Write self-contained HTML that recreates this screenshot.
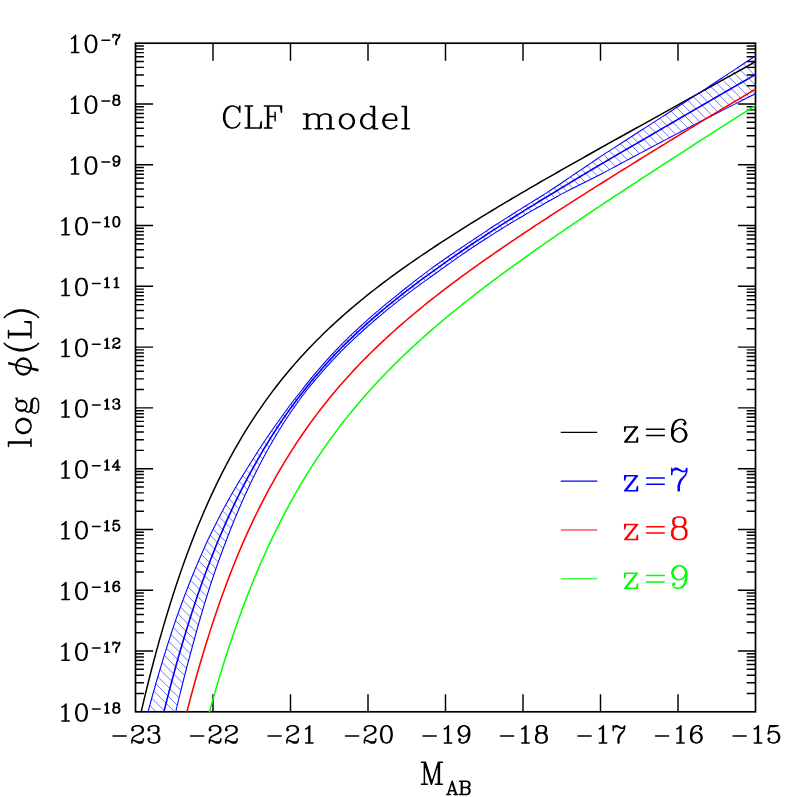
<!DOCTYPE html>
<html><head><meta charset="utf-8"><title>CLF model</title>
<style>
html,body{margin:0;padding:0;background:#fff;}
body{width:797px;height:797px;overflow:hidden;font-family:"Liberation Serif",serif;}
svg{display:block;font-family:"Liberation Serif",serif;}
</style></head><body>
<svg width="797" height="797" viewBox="0 0 797 797">
<rect width="797" height="797" fill="#fff"/>
<path d="M213.00,711.8 v-17.6 M213.00,43.2 v17.6 M290.50,711.8 v-17.6 M290.50,43.2 v17.6 M368.00,711.8 v-17.6 M368.00,43.2 v17.6 M445.50,711.8 v-17.6 M445.50,43.2 v17.6 M523.00,711.8 v-17.6 M523.00,43.2 v17.6 M600.50,711.8 v-17.6 M600.50,43.2 v17.6 M678.00,711.8 v-17.6 M678.00,43.2 v17.6 M135.5,85.68 h8.4 M755.5,85.68 h-8.8 M135.5,74.98 h8.4 M755.5,74.98 h-8.8 M135.5,67.39 h8.4 M755.5,67.39 h-8.8 M135.5,61.50 h8.4 M755.5,61.50 h-8.8 M135.5,56.68 h8.4 M755.5,56.68 h-8.8 M135.5,52.62 h8.4 M755.5,52.62 h-8.8 M135.5,49.09 h8.4 M755.5,49.09 h-8.8 M135.5,45.98 h8.4 M755.5,45.98 h-8.8 M135.5,103.98 h17.6 M755.5,103.98 h-17.6 M135.5,146.47 h8.4 M755.5,146.47 h-8.8 M135.5,135.76 h8.4 M755.5,135.76 h-8.8 M135.5,128.17 h8.4 M755.5,128.17 h-8.8 M135.5,122.28 h8.4 M755.5,122.28 h-8.8 M135.5,117.47 h8.4 M755.5,117.47 h-8.8 M135.5,113.40 h8.4 M755.5,113.40 h-8.8 M135.5,109.87 h8.4 M755.5,109.87 h-8.8 M135.5,106.76 h8.4 M755.5,106.76 h-8.8 M135.5,164.76 h17.6 M755.5,164.76 h-17.6 M135.5,207.25 h8.4 M755.5,207.25 h-8.8 M135.5,196.55 h8.4 M755.5,196.55 h-8.8 M135.5,188.95 h8.4 M755.5,188.95 h-8.8 M135.5,183.06 h8.4 M755.5,183.06 h-8.8 M135.5,178.25 h8.4 M755.5,178.25 h-8.8 M135.5,174.18 h8.4 M755.5,174.18 h-8.8 M135.5,170.65 h8.4 M755.5,170.65 h-8.8 M135.5,167.54 h8.4 M755.5,167.54 h-8.8 M135.5,225.55 h17.6 M755.5,225.55 h-17.6 M135.5,268.03 h8.4 M755.5,268.03 h-8.8 M135.5,257.33 h8.4 M755.5,257.33 h-8.8 M135.5,249.73 h8.4 M755.5,249.73 h-8.8 M135.5,243.84 h8.4 M755.5,243.84 h-8.8 M135.5,239.03 h8.4 M755.5,239.03 h-8.8 M135.5,234.96 h8.4 M755.5,234.96 h-8.8 M135.5,231.44 h8.4 M755.5,231.44 h-8.8 M135.5,228.33 h8.4 M755.5,228.33 h-8.8 M135.5,286.33 h17.6 M755.5,286.33 h-17.6 M135.5,328.81 h8.4 M755.5,328.81 h-8.8 M135.5,318.11 h8.4 M755.5,318.11 h-8.8 M135.5,310.51 h8.4 M755.5,310.51 h-8.8 M135.5,304.62 h8.4 M755.5,304.62 h-8.8 M135.5,299.81 h8.4 M755.5,299.81 h-8.8 M135.5,295.74 h8.4 M755.5,295.74 h-8.8 M135.5,292.22 h8.4 M755.5,292.22 h-8.8 M135.5,289.11 h8.4 M755.5,289.11 h-8.8 M135.5,347.11 h17.6 M755.5,347.11 h-17.6 M135.5,389.59 h8.4 M755.5,389.59 h-8.8 M135.5,378.89 h8.4 M755.5,378.89 h-8.8 M135.5,371.30 h8.4 M755.5,371.30 h-8.8 M135.5,365.41 h8.4 M755.5,365.41 h-8.8 M135.5,360.59 h8.4 M755.5,360.59 h-8.8 M135.5,356.52 h8.4 M755.5,356.52 h-8.8 M135.5,353.00 h8.4 M755.5,353.00 h-8.8 M135.5,349.89 h8.4 M755.5,349.89 h-8.8 M135.5,407.89 h17.6 M755.5,407.89 h-17.6 M135.5,450.38 h8.4 M755.5,450.38 h-8.8 M135.5,439.67 h8.4 M755.5,439.67 h-8.8 M135.5,432.08 h8.4 M755.5,432.08 h-8.8 M135.5,426.19 h8.4 M755.5,426.19 h-8.8 M135.5,421.38 h8.4 M755.5,421.38 h-8.8 M135.5,417.31 h8.4 M755.5,417.31 h-8.8 M135.5,413.78 h8.4 M755.5,413.78 h-8.8 M135.5,410.67 h8.4 M755.5,410.67 h-8.8 M135.5,468.67 h17.6 M755.5,468.67 h-17.6 M135.5,511.16 h8.4 M755.5,511.16 h-8.8 M135.5,500.45 h8.4 M755.5,500.45 h-8.8 M135.5,492.86 h8.4 M755.5,492.86 h-8.8 M135.5,486.97 h8.4 M755.5,486.97 h-8.8 M135.5,482.16 h8.4 M755.5,482.16 h-8.8 M135.5,478.09 h8.4 M755.5,478.09 h-8.8 M135.5,474.56 h8.4 M755.5,474.56 h-8.8 M135.5,471.45 h8.4 M755.5,471.45 h-8.8 M135.5,529.45 h17.6 M755.5,529.45 h-17.6 M135.5,571.94 h8.4 M755.5,571.94 h-8.8 M135.5,561.24 h8.4 M755.5,561.24 h-8.8 M135.5,553.64 h8.4 M755.5,553.64 h-8.8 M135.5,547.75 h8.4 M755.5,547.75 h-8.8 M135.5,542.94 h8.4 M755.5,542.94 h-8.8 M135.5,538.87 h8.4 M755.5,538.87 h-8.8 M135.5,535.34 h8.4 M755.5,535.34 h-8.8 M135.5,532.24 h8.4 M755.5,532.24 h-8.8 M135.5,590.24 h17.6 M755.5,590.24 h-17.6 M135.5,632.72 h8.4 M755.5,632.72 h-8.8 M135.5,622.02 h8.4 M755.5,622.02 h-8.8 M135.5,614.42 h8.4 M755.5,614.42 h-8.8 M135.5,608.53 h8.4 M755.5,608.53 h-8.8 M135.5,603.72 h8.4 M755.5,603.72 h-8.8 M135.5,599.65 h8.4 M755.5,599.65 h-8.8 M135.5,596.13 h8.4 M755.5,596.13 h-8.8 M135.5,593.02 h8.4 M755.5,593.02 h-8.8 M135.5,651.02 h17.6 M755.5,651.02 h-17.6 M135.5,693.50 h8.4 M755.5,693.50 h-8.8 M135.5,682.80 h8.4 M755.5,682.80 h-8.8 M135.5,675.21 h8.4 M755.5,675.21 h-8.8 M135.5,669.32 h8.4 M755.5,669.32 h-8.8 M135.5,664.50 h8.4 M755.5,664.50 h-8.8 M135.5,660.43 h8.4 M755.5,660.43 h-8.8 M135.5,656.91 h8.4 M755.5,656.91 h-8.8 M135.5,653.80 h8.4 M755.5,653.80 h-8.8" stroke="#000" stroke-width="1.45" fill="none"/>
<rect x="135.5" y="43.2" width="620.0" height="668.5999999999999" fill="none" stroke="#000" stroke-width="1.7"/>
<clipPath id="c"><rect x="135.0" y="42.7" width="621.0" height="669.5999999999999"/></clipPath>
<clipPath id="band"><path d="M144.62,725.00 L145.91,720.00 L147.21,715.00 L148.53,710.00 L149.89,705.00 L151.26,700.00 L152.64,695.00 L154.05,690.00 L155.47,685.00 L156.90,680.00 L158.37,675.00 L159.84,670.00 L161.34,665.00 L162.86,660.00 L164.39,655.00 L165.95,650.00 L167.53,645.00 L169.12,640.00 L170.74,635.00 L172.38,630.00 L174.04,625.00 L175.73,620.00 L177.51,615.00 L179.31,610.00 L181.14,605.00 L182.99,600.00 L184.87,595.00 L186.78,590.00 L188.72,585.00 L190.70,580.00 L192.73,575.00 L194.79,570.00 L196.88,565.00 L199.01,560.00 L201.17,555.00 L203.36,550.00 L205.59,545.00 L207.86,540.00 L210.28,535.00 L212.73,530.00 L215.23,525.00 L217.77,520.00 L220.35,515.00 L222.98,510.00 L225.66,505.00 L228.38,500.00 L231.20,495.00 L234.08,490.00 L237.00,485.00 L239.99,480.00 L243.02,475.00 L246.12,470.00 L249.28,465.00 L252.47,460.00 L255.58,455.00 L258.77,450.00 L262.02,445.00 L265.33,440.00 L268.72,435.00 L272.19,430.00 L275.73,425.00 L279.35,420.00 L282.88,415.00 L286.50,410.00 L290.20,405.00 L294.00,400.00 L297.88,395.00 L301.86,390.00 L305.86,384.81 L310.86,378.62 L315.86,372.62 L320.86,366.80 L325.86,361.13 L330.86,355.63 L335.86,350.27 L340.86,345.07 L345.86,340.09 L350.86,335.24 L355.86,330.51 L360.86,325.88 L365.86,321.36 L370.86,316.94 L375.86,312.61 L380.86,308.36 L385.86,304.20 L390.86,300.12 L395.86,296.09 L400.86,292.02 L405.86,288.02 L410.86,284.08 L415.86,280.20 L420.86,276.38 L425.86,272.61 L430.86,268.88 L435.86,265.22 L440.86,261.70 L445.86,258.22 L450.86,254.77 L455.86,251.37 L460.86,248.00 L465.86,244.66 L470.86,241.34 L475.86,237.98 L480.86,234.64 L485.86,231.34 L490.86,228.06 L495.86,224.81 L500.86,221.59 L505.86,218.39 L510.86,215.21 L515.86,212.05 L520.86,208.90 L525.86,205.77 L530.86,202.65 L535.86,199.55 L540.86,196.46 L545.86,193.34 L550.86,190.04 L555.86,186.75 L560.86,183.45 L565.86,180.04 L570.86,176.63 L575.86,173.24 L580.86,169.85 L585.86,166.47 L590.86,163.10 L595.86,159.74 L600.86,156.40 L605.86,153.15 L610.86,149.91 L615.86,146.67 L620.86,143.44 L625.86,140.21 L630.86,136.99 L635.86,133.77 L640.86,130.56 L645.86,127.35 L650.86,124.14 L655.86,120.91 L660.86,117.68 L665.86,114.45 L670.86,111.22 L675.86,108.00 L680.86,104.78 L685.86,101.56 L690.86,98.35 L695.86,95.13 L700.86,91.91 L705.86,88.61 L710.86,85.31 L715.86,82.01 L720.86,78.72 L725.86,75.42 L730.86,72.13 L735.86,68.84 L740.86,65.55 L745.86,62.26 L750.86,58.98 L755.50,55.93 L755.50,93.73 L750.86,96.06 L745.86,98.57 L740.86,101.08 L735.86,103.60 L730.86,106.11 L725.86,108.63 L720.86,111.15 L715.86,113.67 L710.86,116.19 L705.86,118.72 L700.86,121.24 L695.86,123.85 L690.86,126.47 L685.86,129.09 L680.86,131.72 L675.86,134.35 L670.86,136.98 L665.86,139.62 L660.86,142.26 L655.86,144.90 L650.86,147.55 L645.86,150.20 L640.86,152.86 L635.86,155.52 L630.86,158.19 L625.86,160.86 L620.86,163.53 L615.86,166.21 L610.86,168.90 L605.86,171.59 L600.86,174.29 L595.86,176.81 L590.86,179.30 L585.86,181.80 L580.86,184.30 L575.86,186.81 L570.86,189.33 L565.86,191.86 L560.86,194.40 L555.86,197.17 L550.86,199.99 L545.86,202.82 L540.86,205.67 L535.86,208.53 L530.86,211.40 L525.86,214.29 L520.86,217.19 L515.86,220.11 L510.86,223.05 L505.86,226.13 L500.86,229.26 L495.86,232.40 L490.86,235.57 L485.86,238.77 L480.86,242.01 L475.86,245.26 L470.86,248.55 L465.86,251.95 L460.86,255.41 L455.86,258.89 L450.86,262.41 L445.86,265.97 L440.86,269.57 L435.86,273.20 L430.86,276.75 L425.86,280.31 L420.86,283.92 L415.86,287.58 L410.86,291.30 L405.86,295.08 L400.86,298.91 L395.86,302.82 L390.86,306.81 L385.86,310.88 L380.86,315.03 L375.86,319.26 L370.86,323.58 L365.86,328.00 L360.86,332.51 L355.86,337.12 L350.86,341.85 L345.86,346.69 L340.86,351.65 L335.86,356.84 L330.86,362.19 L325.86,367.68 L320.86,373.33 L315.86,379.15 L310.86,385.14 L306.86,390.00 L303.08,395.00 L299.40,400.00 L295.80,405.00 L292.30,410.00 L288.88,415.00 L285.55,420.00 L282.37,425.00 L279.26,430.00 L276.24,435.00 L273.28,440.00 L270.40,445.00 L267.59,450.00 L264.85,455.00 L262.17,460.00 L259.58,465.00 L257.02,470.00 L254.52,475.00 L252.09,480.00 L249.70,485.00 L247.38,490.00 L245.10,495.00 L242.88,500.00 L240.67,505.00 L238.51,510.00 L236.39,515.00 L234.32,520.00 L232.29,525.00 L230.31,530.00 L228.36,535.00 L226.46,540.00 L224.54,545.00 L222.66,550.00 L220.82,555.00 L219.01,560.00 L217.23,565.00 L215.49,570.00 L213.78,575.00 L212.10,580.00 L210.45,585.00 L208.83,590.00 L207.25,595.00 L205.69,600.00 L204.16,605.00 L202.66,610.00 L201.18,615.00 L199.73,620.00 L198.29,625.00 L196.88,630.00 L195.49,635.00 L194.12,640.00 L192.78,645.00 L191.45,650.00 L190.08,655.00 L188.72,660.00 L187.39,665.00 L186.07,670.00 L184.77,675.00 L183.49,680.00 L182.23,685.00 L180.98,690.00 L179.75,695.00 L178.54,700.00 L177.34,705.00 L176.16,710.00 L174.99,715.00 L173.83,720.00 L172.68,725.00Z"/></clipPath>
<g clip-path="url(#c)"><g clip-path="url(#band)"><path d="M100,-1252.50 L800,-552.50 M100,-1243.28 L800,-543.28 M100,-1234.06 L800,-534.06 M100,-1224.85 L800,-524.85 M100,-1215.63 L800,-515.63 M100,-1206.41 L800,-506.41 M100,-1197.19 L800,-497.19 M100,-1187.97 L800,-487.97 M100,-1178.76 L800,-478.76 M100,-1169.54 L800,-469.54 M100,-1160.32 L800,-460.32 M100,-1151.10 L800,-451.10 M100,-1141.88 L800,-441.88 M100,-1132.67 L800,-432.67 M100,-1123.45 L800,-423.45 M100,-1114.23 L800,-414.23 M100,-1105.01 L800,-405.01 M100,-1095.79 L800,-395.79 M100,-1086.58 L800,-386.58 M100,-1077.36 L800,-377.36 M100,-1068.14 L800,-368.14 M100,-1058.92 L800,-358.92 M100,-1049.70 L800,-349.70 M100,-1040.49 L800,-340.49 M100,-1031.27 L800,-331.27 M100,-1022.05 L800,-322.05 M100,-1012.83 L800,-312.83 M100,-1003.61 L800,-303.61 M100,-994.40 L800,-294.40 M100,-985.18 L800,-285.18 M100,-975.96 L800,-275.96 M100,-966.74 L800,-266.74 M100,-957.52 L800,-257.52 M100,-948.31 L800,-248.31 M100,-939.09 L800,-239.09 M100,-929.87 L800,-229.87 M100,-920.65 L800,-220.65 M100,-911.43 L800,-211.43 M100,-902.22 L800,-202.22 M100,-893.00 L800,-193.00 M100,-883.78 L800,-183.78 M100,-874.56 L800,-174.56 M100,-865.34 L800,-165.34 M100,-856.13 L800,-156.13 M100,-846.91 L800,-146.91 M100,-837.69 L800,-137.69 M100,-828.47 L800,-128.47 M100,-819.25 L800,-119.25 M100,-810.04 L800,-110.04 M100,-800.82 L800,-100.82 M100,-791.60 L800,-91.60 M100,-782.38 L800,-82.38 M100,-773.16 L800,-73.16 M100,-763.95 L800,-63.95 M100,-754.73 L800,-54.73 M100,-745.51 L800,-45.51 M100,-736.29 L800,-36.29 M100,-727.07 L800,-27.07 M100,-717.86 L800,-17.86 M100,-708.64 L800,-8.64 M100,-699.42 L800,0.58 M100,-690.20 L800,9.80 M100,-680.98 L800,19.02 M100,-671.77 L800,28.23 M100,-662.55 L800,37.45 M100,-653.33 L800,46.67 M100,-644.11 L800,55.89 M100,-634.89 L800,65.11 M100,-625.68 L800,74.32 M100,-616.46 L800,83.54 M100,-607.24 L800,92.76 M100,-598.02 L800,101.98 M100,-588.80 L800,111.20 M100,-579.59 L800,120.41 M100,-570.37 L800,129.63 M100,-561.15 L800,138.85 M100,-551.93 L800,148.07 M100,-542.71 L800,157.29 M100,-533.50 L800,166.50 M100,-524.28 L800,175.72 M100,-515.06 L800,184.94 M100,-505.84 L800,194.16 M100,-496.62 L800,203.38 M100,-487.41 L800,212.59 M100,-478.19 L800,221.81 M100,-468.97 L800,231.03 M100,-459.75 L800,240.25 M100,-450.53 L800,249.47 M100,-441.32 L800,258.68 M100,-432.10 L800,267.90 M100,-422.88 L800,277.12 M100,-413.66 L800,286.34 M100,-404.44 L800,295.56 M100,-395.23 L800,304.77 M100,-386.01 L800,313.99 M100,-376.79 L800,323.21 M100,-367.57 L800,332.43 M100,-358.35 L800,341.65 M100,-349.14 L800,350.86 M100,-339.92 L800,360.08 M100,-330.70 L800,369.30 M100,-321.48 L800,378.52 M100,-312.26 L800,387.74 M100,-303.05 L800,396.95 M100,-293.83 L800,406.17 M100,-284.61 L800,415.39 M100,-275.39 L800,424.61 M100,-266.17 L800,433.83 M100,-256.96 L800,443.04 M100,-247.74 L800,452.26 M100,-238.52 L800,461.48 M100,-229.30 L800,470.70 M100,-220.08 L800,479.92 M100,-210.87 L800,489.13 M100,-201.65 L800,498.35 M100,-192.43 L800,507.57 M100,-183.21 L800,516.79 M100,-173.99 L800,526.01 M100,-164.78 L800,535.22 M100,-155.56 L800,544.44 M100,-146.34 L800,553.66 M100,-137.12 L800,562.88 M100,-127.90 L800,572.10 M100,-118.69 L800,581.31 M100,-109.47 L800,590.53 M100,-100.25 L800,599.75 M100,-91.03 L800,608.97 M100,-81.81 L800,618.19 M100,-72.60 L800,627.40 M100,-63.38 L800,636.62 M100,-54.16 L800,645.84 M100,-44.94 L800,655.06 M100,-35.72 L800,664.28 M100,-26.51 L800,673.49 M100,-17.29 L800,682.71 M100,-8.07 L800,691.93 M100,1.15 L800,701.15 M100,10.37 L800,710.37 M100,19.58 L800,719.58 M100,28.80 L800,728.80 M100,38.02 L800,738.02 M100,47.24 L800,747.24 M100,56.46 L800,756.46 M100,65.67 L800,765.67 M100,74.89 L800,774.89 M100,84.11 L800,784.11 M100,93.33 L800,793.33 M100,102.55 L800,802.55 M100,111.76 L800,811.76 M100,120.98 L800,820.98 M100,130.20 L800,830.20 M100,139.42 L800,839.42 M100,148.64 L800,848.64 M100,157.85 L800,857.85 M100,167.07 L800,867.07 M100,176.29 L800,876.29 M100,185.51 L800,885.51 M100,194.73 L800,894.73 M100,203.94 L800,903.94 M100,213.16 L800,913.16 M100,222.38 L800,922.38 M100,231.60 L800,931.60 M100,240.82 L800,940.82 M100,250.03 L800,950.03 M100,259.25 L800,959.25 M100,268.47 L800,968.47 M100,277.69 L800,977.69 M100,286.91 L800,986.91 M100,296.12 L800,996.12 M100,305.34 L800,1005.34 M100,314.56 L800,1014.56 M100,323.78 L800,1023.78 M100,333.00 L800,1033.00 M100,342.21 L800,1042.21 M100,351.43 L800,1051.43 M100,360.65 L800,1060.65 M100,369.87 L800,1069.87 M100,379.09 L800,1079.09 M100,388.30 L800,1088.30 M100,397.52 L800,1097.52 M100,406.74 L800,1106.74 M100,415.96 L800,1115.96 M100,425.18 L800,1125.18 M100,434.39 L800,1134.39 M100,443.61 L800,1143.61 M100,452.83 L800,1152.83 M100,462.05 L800,1162.05 M100,471.27 L800,1171.27 M100,480.48 L800,1180.48 M100,489.70 L800,1189.70 M100,498.92 L800,1198.92 M100,508.14 L800,1208.14 M100,517.36 L800,1217.36 M100,526.57 L800,1226.57 M100,535.79 L800,1235.79 M100,545.01 L800,1245.01 M100,554.23 L800,1254.23 M100,563.45 L800,1263.45 M100,572.66 L800,1272.66 M100,581.88 L800,1281.88 M100,591.10 L800,1291.10 M100,600.32 L800,1300.32 M100,609.54 L800,1309.54 M100,618.75 L800,1318.75 M100,627.97 L800,1327.97 M100,637.19 L800,1337.19 M100,646.41 L800,1346.41 M100,655.63 L800,1355.63 M100,664.84 L800,1364.84 M100,674.06 L800,1374.06 M100,683.28 L800,1383.28 M100,692.50 L800,1392.50 M100,701.72 L800,1401.72 M100,710.93 L800,1410.93 M100,720.15 L800,1420.15 M100,729.37 L800,1429.37 M100,738.59 L800,1438.59 M100,747.81 L800,1447.81 M100,757.02 L800,1457.02 M100,766.24 L800,1466.24 M100,775.46 L800,1475.46 M100,784.68 L800,1484.68 M100,793.90 L800,1493.90 M100,803.11 L800,1503.11 M100,812.33 L800,1512.33 M100,821.55 L800,1521.55 M100,830.77 L800,1530.77 M100,839.99 L800,1539.99 M100,849.20 L800,1549.20 M100,858.42 L800,1558.42 M100,867.64 L800,1567.64 M100,876.86 L800,1576.86 M100,886.08 L800,1586.08 M100,895.29 L800,1595.29 M100,904.51 L800,1604.51 M100,913.73 L800,1613.73 M100,922.95 L800,1622.95 M100,932.17 L800,1632.17 M100,941.38 L800,1641.38 M100,950.60 L800,1650.60 M100,959.82 L800,1659.82 M100,969.04 L800,1669.04 M100,978.26 L800,1678.26 M100,987.47 L800,1687.47 M100,996.69 L800,1696.69" stroke="#0000ff" stroke-width="0.55" fill="none"/></g>
<path d="M131.62,754.91 L134.76,740.26 L137.90,726.08 L141.03,712.36 L144.17,699.09 L147.30,686.24 L150.44,673.80 L153.57,661.75 L156.71,650.09 L159.84,638.79 L162.98,627.84 L166.11,617.23 L169.25,606.95 L172.38,596.99 L175.52,587.33 L178.65,577.96 L181.79,568.87 L184.92,560.05 L188.06,551.50 L191.19,543.19 L194.33,535.13 L197.46,527.30 L200.60,519.70 L203.73,512.31 L206.87,505.13 L210.00,498.16 L213.14,491.37 L216.27,484.78 L219.41,478.36 L222.54,472.11 L225.68,466.03 L228.81,460.12 L231.95,454.35 L235.08,448.74 L238.22,443.27 L241.35,437.93 L244.49,432.73 L247.62,427.66 L250.76,422.71 L253.89,417.88 L257.03,413.17 L260.16,408.56 L263.30,404.06 L266.43,399.67 L269.57,395.37 L272.70,391.16 L275.84,387.05 L278.97,383.03 L282.11,379.09 L285.24,375.23 L288.38,371.45 L291.51,367.75 L294.65,364.12 L297.78,360.56 L300.92,357.07 L304.05,353.64 L307.19,350.28 L310.32,346.98 L313.46,343.73 L316.59,340.54 L319.73,337.41 L322.86,334.32 L326.00,331.29 L329.13,328.31 L332.27,325.37 L335.40,322.48 L338.54,319.63 L341.67,316.82 L344.81,314.05 L347.94,311.32 L351.08,308.63 L354.21,305.97 L357.35,303.35 L360.48,300.76 L363.62,298.21 L366.75,295.68 L369.89,293.18 L373.02,290.72 L376.16,288.28 L379.29,285.86 L382.43,283.47 L385.56,281.11 L388.70,278.77 L391.83,276.45 L394.97,274.16 L398.10,271.89 L401.24,269.63 L404.37,267.40 L407.51,265.18 L410.64,262.99 L413.78,260.81 L416.91,258.65 L420.05,256.50 L423.18,254.37 L426.32,252.26 L429.45,250.15 L432.59,248.07 L435.72,246.00 L438.86,243.94 L441.99,241.89 L445.13,239.85 L448.27,237.83 L451.40,235.82 L454.54,233.81 L457.67,231.82 L460.81,229.84 L463.94,227.87 L467.08,225.91 L470.21,223.95 L473.35,222.01 L476.48,220.07 L479.62,218.14 L482.75,216.22 L485.89,214.31 L489.02,212.40 L492.16,210.50 L495.29,208.61 L498.43,206.72 L501.56,204.84 L504.70,202.97 L507.83,201.10 L510.97,199.24 L514.10,197.38 L517.24,195.53 L520.37,193.68 L523.51,191.85 L526.64,190.03 L529.78,188.20 L532.91,186.39 L536.05,184.57 L539.18,182.77 L542.32,180.96 L545.45,179.16 L548.59,177.36 L551.72,175.57 L554.86,173.78 L557.99,171.99 L561.13,170.20 L564.26,168.42 L567.40,166.64 L570.53,164.86 L573.67,163.09 L576.80,161.32 L579.94,159.55 L583.07,157.78 L586.21,156.02 L589.34,154.26 L592.48,152.49 L595.61,150.74 L598.75,148.98 L601.88,147.22 L605.02,145.47 L608.15,143.72 L611.29,141.97 L614.42,140.22 L617.56,138.48 L620.69,136.73 L623.83,134.99 L626.96,133.25 L630.10,131.51 L633.23,129.77 L636.37,128.03 L639.50,126.29 L642.64,124.55 L645.77,122.82 L648.91,121.09 L652.04,119.34 L655.18,117.59 L658.31,115.85 L661.45,114.10 L664.58,112.35 L667.72,110.61 L670.85,108.87 L673.99,107.12 L677.12,105.38 L680.26,103.64 L683.39,101.90 L686.53,100.16 L689.66,98.42 L692.80,96.68 L695.93,94.94 L699.07,93.20 L702.20,91.44 L705.34,89.67 L708.47,87.91 L711.61,86.14 L714.74,84.37 L717.88,82.61 L721.01,80.84 L724.15,79.07 L727.28,77.31 L730.42,75.54 L733.55,73.78 L744.20,68.00 L755.50,61.60" stroke="#000" stroke-width="1.5" fill="none" stroke-linejoin="round"/>
<path d="M144.62,725.00 L145.91,720.00 L147.21,715.00 L148.53,710.00 L149.89,705.00 L151.26,700.00 L152.64,695.00 L154.05,690.00 L155.47,685.00 L156.90,680.00 L158.37,675.00 L159.84,670.00 L161.34,665.00 L162.86,660.00 L164.39,655.00 L165.95,650.00 L167.53,645.00 L169.12,640.00 L170.74,635.00 L172.38,630.00 L174.04,625.00 L175.73,620.00 L177.51,615.00 L179.31,610.00 L181.14,605.00 L182.99,600.00 L184.87,595.00 L186.78,590.00 L188.72,585.00 L190.70,580.00 L192.73,575.00 L194.79,570.00 L196.88,565.00 L199.01,560.00 L201.17,555.00 L203.36,550.00 L205.59,545.00 L207.86,540.00 L210.28,535.00 L212.73,530.00 L215.23,525.00 L217.77,520.00 L220.35,515.00 L222.98,510.00 L225.66,505.00 L228.38,500.00 L231.20,495.00 L234.08,490.00 L237.00,485.00 L239.99,480.00 L243.02,475.00 L246.12,470.00 L249.28,465.00 L252.47,460.00 L255.58,455.00 L258.77,450.00 L262.02,445.00 L265.33,440.00 L268.72,435.00 L272.19,430.00 L275.73,425.00 L279.35,420.00 L282.88,415.00 L286.50,410.00 L290.20,405.00 L294.00,400.00 L297.88,395.00 L301.86,390.00 L305.86,384.81 L310.86,378.62 L315.86,372.62 L320.86,366.80 L325.86,361.13 L330.86,355.63 L335.86,350.27 L340.86,345.07 L345.86,340.09 L350.86,335.24 L355.86,330.51 L360.86,325.88 L365.86,321.36 L370.86,316.94 L375.86,312.61 L380.86,308.36 L385.86,304.20 L390.86,300.12 L395.86,296.09 L400.86,292.02 L405.86,288.02 L410.86,284.08 L415.86,280.20 L420.86,276.38 L425.86,272.61 L430.86,268.88 L435.86,265.22 L440.86,261.70 L445.86,258.22 L450.86,254.77 L455.86,251.37 L460.86,248.00 L465.86,244.66 L470.86,241.34 L475.86,237.98 L480.86,234.64 L485.86,231.34 L490.86,228.06 L495.86,224.81 L500.86,221.59 L505.86,218.39 L510.86,215.21 L515.86,212.05 L520.86,208.90 L525.86,205.77 L530.86,202.65 L535.86,199.55 L540.86,196.46 L545.86,193.34 L550.86,190.04 L555.86,186.75 L560.86,183.45 L565.86,180.04 L570.86,176.63 L575.86,173.24 L580.86,169.85 L585.86,166.47 L590.86,163.10 L595.86,159.74 L600.86,156.40 L605.86,153.15 L610.86,149.91 L615.86,146.67 L620.86,143.44 L625.86,140.21 L630.86,136.99 L635.86,133.77 L640.86,130.56 L645.86,127.35 L650.86,124.14 L655.86,120.91 L660.86,117.68 L665.86,114.45 L670.86,111.22 L675.86,108.00 L680.86,104.78 L685.86,101.56 L690.86,98.35 L695.86,95.13 L700.86,91.91 L705.86,88.61 L710.86,85.31 L715.86,82.01 L720.86,78.72 L725.86,75.42 L730.86,72.13 L735.86,68.84 L740.86,65.55 L745.86,62.26 L750.86,58.98 L755.50,55.93" stroke="#0000ff" stroke-width="1.05" fill="none" stroke-linejoin="round"/>
<path d="M172.68,725.00 L173.83,720.00 L174.99,715.00 L176.16,710.00 L177.34,705.00 L178.54,700.00 L179.75,695.00 L180.98,690.00 L182.23,685.00 L183.49,680.00 L184.77,675.00 L186.07,670.00 L187.39,665.00 L188.72,660.00 L190.08,655.00 L191.45,650.00 L192.78,645.00 L194.12,640.00 L195.49,635.00 L196.88,630.00 L198.29,625.00 L199.73,620.00 L201.18,615.00 L202.66,610.00 L204.16,605.00 L205.69,600.00 L207.25,595.00 L208.83,590.00 L210.45,585.00 L212.10,580.00 L213.78,575.00 L215.49,570.00 L217.23,565.00 L219.01,560.00 L220.82,555.00 L222.66,550.00 L224.54,545.00 L226.46,540.00 L228.36,535.00 L230.31,530.00 L232.29,525.00 L234.32,520.00 L236.39,515.00 L238.51,510.00 L240.67,505.00 L242.88,500.00 L245.10,495.00 L247.38,490.00 L249.70,485.00 L252.09,480.00 L254.52,475.00 L257.02,470.00 L259.58,465.00 L262.17,460.00 L264.85,455.00 L267.59,450.00 L270.40,445.00 L273.28,440.00 L276.24,435.00 L279.26,430.00 L282.37,425.00 L285.55,420.00 L288.88,415.00 L292.30,410.00 L295.80,405.00 L299.40,400.00 L303.08,395.00 L306.86,390.00 L310.86,385.14 L315.86,379.15 L320.86,373.33 L325.86,367.68 L330.86,362.19 L335.86,356.84 L340.86,351.65 L345.86,346.69 L350.86,341.85 L355.86,337.12 L360.86,332.51 L365.86,328.00 L370.86,323.58 L375.86,319.26 L380.86,315.03 L385.86,310.88 L390.86,306.81 L395.86,302.82 L400.86,298.91 L405.86,295.08 L410.86,291.30 L415.86,287.58 L420.86,283.92 L425.86,280.31 L430.86,276.75 L435.86,273.20 L440.86,269.57 L445.86,265.97 L450.86,262.41 L455.86,258.89 L460.86,255.41 L465.86,251.95 L470.86,248.55 L475.86,245.26 L480.86,242.01 L485.86,238.77 L490.86,235.57 L495.86,232.40 L500.86,229.26 L505.86,226.13 L510.86,223.05 L515.86,220.11 L520.86,217.19 L525.86,214.29 L530.86,211.40 L535.86,208.53 L540.86,205.67 L545.86,202.82 L550.86,199.99 L555.86,197.17 L560.86,194.40 L565.86,191.86 L570.86,189.33 L575.86,186.81 L580.86,184.30 L585.86,181.80 L590.86,179.30 L595.86,176.81 L600.86,174.29 L605.86,171.59 L610.86,168.90 L615.86,166.21 L620.86,163.53 L625.86,160.86 L630.86,158.19 L635.86,155.52 L640.86,152.86 L645.86,150.20 L650.86,147.55 L655.86,144.90 L660.86,142.26 L665.86,139.62 L670.86,136.98 L675.86,134.35 L680.86,131.72 L685.86,129.09 L690.86,126.47 L695.86,123.85 L700.86,121.24 L705.86,118.72 L710.86,116.19 L715.86,113.67 L720.86,111.15 L725.86,108.63 L730.86,106.11 L735.86,103.60 L740.86,101.08 L745.86,98.57 L750.86,96.06 L755.50,93.73" stroke="#0000ff" stroke-width="1.05" fill="none" stroke-linejoin="round"/>
<path d="M131.62,866.74 L134.76,849.37 L137.90,832.55 L141.03,816.27 L144.17,800.51 L147.30,785.24 L150.44,770.45 L153.57,756.12 L156.71,742.23 L159.84,728.78 L162.98,715.74 L166.11,703.10 L169.25,690.85 L172.38,678.97 L175.52,667.44 L178.65,656.26 L181.79,645.42 L184.92,634.90 L188.06,624.69 L191.19,614.78 L194.33,605.15 L197.46,595.81 L200.60,586.74 L203.73,577.98 L206.87,569.46 L210.00,561.18 L213.14,553.14 L216.27,545.32 L219.41,537.72 L222.54,530.33 L225.68,523.14 L228.81,516.14 L231.95,509.33 L235.08,502.70 L238.22,496.24 L241.35,489.95 L244.49,483.82 L247.62,477.85 L250.76,472.03 L253.89,466.36 L257.03,460.77 L260.16,455.30 L263.30,449.95 L266.43,444.73 L269.57,439.63 L272.70,434.64 L275.84,429.77 L278.97,425.01 L282.11,420.35 L285.24,415.80 L288.38,411.34 L291.51,406.97 L294.65,402.70 L297.78,398.51 L300.92,394.41 L304.05,390.39 L307.19,386.45 L310.32,382.58 L313.46,378.78 L316.59,375.06 L319.73,371.40 L322.86,367.81 L326.00,364.28 L329.13,360.81 L332.27,357.41 L335.40,354.05 L338.54,350.76 L341.67,347.55 L344.81,344.43 L347.94,341.36 L351.08,338.33 L354.21,335.35 L357.35,332.42 L360.48,329.53 L363.62,326.67 L366.75,323.86 L369.89,321.09 L373.02,318.35 L376.16,315.65 L379.29,312.98 L382.43,310.35 L385.56,307.75 L388.70,305.17 L391.83,302.63 L394.97,300.12 L398.10,297.61 L401.24,295.13 L404.37,292.67 L407.51,290.24 L410.64,287.83 L413.78,285.44 L416.91,283.08 L420.05,280.73 L423.18,278.41 L426.32,276.11 L429.45,273.83 L432.59,271.56 L435.72,269.31 L438.86,267.06 L441.99,264.83 L445.13,262.61 L448.27,260.40 L451.40,258.22 L454.54,256.04 L457.67,253.88 L460.81,251.74 L463.94,249.61 L467.08,247.48 L470.21,245.38 L473.35,243.28 L476.48,241.19 L479.62,239.12 L482.75,237.05 L485.89,235.00 L489.02,232.95 L492.16,230.92 L495.29,228.91 L498.43,226.90 L501.56,224.90 L504.70,222.91 L507.83,220.93 L510.97,218.95 L514.10,216.98 L517.24,215.02 L520.37,213.06 L523.51,211.11 L526.64,209.17 L529.78,207.24 L532.91,205.31 L536.05,203.38 L539.18,201.46 L542.32,199.55 L545.45,197.64 L548.59,195.73 L551.72,193.83 L554.86,191.94 L557.99,190.05 L561.13,188.15 L564.26,186.25 L567.40,184.34 L570.53,182.44 L573.67,180.55 L576.80,178.66 L579.94,176.77 L583.07,174.88 L586.21,173.00 L589.34,171.12 L592.48,169.25 L595.61,167.37 L598.75,165.50 L601.88,163.65 L605.02,161.82 L608.15,159.98 L611.29,158.15 L614.42,156.32 L617.56,154.49 L620.69,152.67 L623.83,150.85 L626.96,149.03 L630.10,147.21 L633.23,145.39 L636.37,143.57 L639.50,141.76 L642.64,139.95 L645.77,138.14 L648.91,136.33 L652.04,134.50 L655.18,132.67 L658.31,130.84 L661.45,129.01 L664.58,127.18 L667.72,125.35 L670.85,123.52 L673.99,121.69 L677.12,119.87 L680.26,118.04 L683.39,116.22 L686.53,114.40 L689.66,112.57 L692.80,110.75 L695.93,108.93 L699.07,107.12 L702.20,105.30 L705.34,103.48 L708.47,101.67 L711.61,99.86 L714.74,98.04 L717.88,96.23 L721.01,94.42 L724.15,92.61 L727.28,90.80 L730.42,88.99 L733.55,87.18 L736.69,85.37 L739.82,83.56 L742.96,81.75 L746.09,79.95 L749.23,78.14 L752.36,76.33 L755.50,74.53" stroke="#0000ff" stroke-width="1.6" fill="none" stroke-linejoin="round"/>
<path d="M131.62,1000.29 L134.76,979.12 L137.90,958.65 L141.03,938.84 L144.17,919.68 L147.30,901.13 L150.44,883.19 L153.57,865.82 L156.71,849.00 L159.84,832.73 L162.98,816.97 L166.11,801.70 L169.25,786.92 L172.38,772.60 L175.52,758.73 L178.65,745.28 L181.79,732.25 L184.92,719.62 L188.06,707.38 L191.19,695.51 L194.33,684.00 L197.46,672.83 L200.60,661.99 L203.73,651.48 L206.87,641.28 L210.00,631.37 L213.14,621.76 L216.27,612.42 L219.41,603.34 L222.54,594.53 L225.68,585.96 L228.81,577.64 L231.95,569.54 L235.08,561.67 L238.22,554.02 L241.35,546.59 L244.49,539.39 L247.62,532.39 L250.76,525.57 L253.89,518.93 L257.03,512.47 L260.16,506.17 L263.30,500.03 L266.43,494.04 L269.57,488.21 L272.70,482.51 L275.84,476.95 L278.97,471.47 L282.11,466.12 L285.24,460.90 L288.38,455.80 L291.51,450.81 L294.65,445.94 L297.78,441.17 L300.92,436.50 L304.05,431.94 L307.19,427.47 L310.32,423.09 L313.46,418.81 L316.59,414.61 L319.73,410.49 L322.86,406.45 L326.00,402.49 L329.13,398.60 L332.27,394.79 L335.40,391.04 L338.54,387.37 L341.67,383.75 L344.81,380.20 L347.94,376.71 L351.08,373.27 L354.21,369.89 L357.35,366.57 L360.48,363.30 L363.62,360.07 L366.75,356.90 L369.89,353.77 L373.02,350.68 L376.16,347.64 L379.29,344.64 L382.43,341.68 L385.56,338.76 L388.70,335.87 L391.83,333.02 L394.97,330.21 L398.10,327.43 L401.24,324.68 L404.37,321.96 L407.51,319.27 L410.64,316.61 L413.78,313.98 L416.91,311.38 L420.05,308.80 L423.18,306.24 L426.32,303.71 L429.45,301.21 L432.59,298.72 L435.72,296.26 L438.86,293.82 L441.99,291.39 L445.13,288.99 L448.27,286.61 L451.40,284.24 L454.54,281.89 L457.67,279.56 L460.81,277.24 L463.94,274.94 L467.08,272.65 L470.21,270.38 L473.35,268.12 L476.48,265.88 L479.62,263.64 L482.75,261.42 L485.89,259.22 L489.02,257.02 L492.16,254.84 L495.29,252.66 L498.43,250.50 L501.56,248.34 L504.70,246.20 L507.83,244.06 L510.97,241.93 L514.10,239.81 L517.24,237.70 L520.37,235.60 L523.51,233.50 L526.64,231.42 L529.78,229.34 L532.91,227.26 L536.05,225.19 L539.18,223.13 L542.32,221.08 L545.45,219.03 L548.59,216.99 L551.72,214.95 L554.86,212.92 L557.99,210.89 L561.13,208.87 L564.26,206.86 L567.40,204.84 L570.53,202.84 L573.67,200.83 L576.80,198.83 L579.94,196.84 L583.07,194.85 L586.21,192.86 L589.34,190.87 L592.48,188.89 L595.61,186.92 L598.75,184.94 L601.88,182.97 L605.02,181.00 L608.15,179.04 L611.29,177.08 L614.42,175.12 L617.56,173.16 L620.69,171.21 L623.83,169.25 L626.96,167.30 L630.10,165.36 L633.23,163.41 L636.37,161.47 L639.50,159.53 L642.64,157.59 L645.77,155.65 L648.91,153.71 L652.04,151.78 L655.18,149.85 L658.31,147.91 L661.45,145.99 L664.58,144.06 L667.72,142.13 L670.85,140.21 L673.99,138.28 L677.12,136.36 L680.26,134.44 L683.39,132.52 L686.53,130.60 L689.66,128.68 L692.80,126.77 L695.93,124.85 L699.07,122.94 L702.20,121.04 L705.34,119.16 L708.47,117.28 L711.61,115.40 L714.74,113.52 L717.88,111.65 L721.01,109.77 L724.15,107.89 L727.28,106.02 L730.42,104.14 L733.55,102.27 L736.69,100.39 L739.82,98.52 L742.96,96.65 L746.09,94.78 L749.23,92.91 L752.36,91.04 L755.50,89.16" stroke="#ff0000" stroke-width="1.55" fill="none" stroke-linejoin="round"/>
<path d="M131.62,1135.13 L134.76,1110.82 L137.90,1087.29 L141.03,1064.52 L144.17,1042.47 L147.30,1021.14 L150.44,1000.47 L153.57,980.47 L156.71,961.10 L159.84,942.33 L162.98,924.16 L166.11,906.55 L169.25,889.50 L172.38,872.97 L175.52,856.95 L178.65,841.42 L181.79,826.37 L184.92,811.78 L188.06,797.63 L191.19,783.90 L194.33,770.59 L197.46,757.68 L200.60,745.15 L203.73,732.99 L206.87,721.19 L210.00,709.73 L213.14,698.60 L216.27,687.80 L219.41,677.30 L222.54,667.11 L225.68,657.20 L228.81,647.57 L231.95,638.21 L235.08,629.10 L238.22,620.25 L241.35,611.64 L244.49,603.26 L247.62,595.11 L250.76,587.17 L253.89,579.44 L257.03,571.91 L260.16,564.58 L263.30,557.44 L266.43,550.47 L269.57,543.68 L272.70,537.07 L275.84,530.61 L278.97,524.31 L282.11,518.16 L285.24,512.16 L288.38,506.30 L291.51,500.57 L294.65,494.98 L297.78,489.52 L300.92,484.17 L304.05,478.95 L307.19,473.83 L310.32,468.83 L313.46,463.94 L316.59,459.14 L319.73,454.45 L322.86,449.85 L326.00,445.34 L329.13,440.92 L332.27,436.59 L335.40,432.34 L338.54,428.17 L341.67,424.08 L344.81,420.06 L347.94,416.11 L351.08,412.23 L354.21,408.42 L357.35,404.67 L360.48,400.99 L363.62,397.36 L366.75,393.79 L369.89,390.28 L373.02,386.82 L376.16,383.42 L379.29,380.06 L382.43,376.75 L385.56,373.49 L388.70,370.28 L391.83,367.10 L394.97,363.97 L398.10,360.88 L401.24,357.83 L404.37,354.82 L407.51,351.84 L410.64,348.90 L413.78,345.99 L416.91,343.12 L420.05,340.27 L423.18,337.46 L426.32,334.68 L429.45,331.92 L432.59,329.19 L435.72,326.49 L438.86,323.81 L441.99,321.16 L445.13,318.53 L448.27,315.93 L451.40,313.34 L454.54,310.78 L457.67,308.24 L460.81,305.72 L463.94,303.21 L467.08,300.73 L470.21,298.26 L473.35,295.81 L476.48,293.38 L479.62,290.96 L482.75,288.56 L485.89,286.18 L489.02,283.80 L492.16,281.45 L495.29,279.10 L498.43,276.77 L501.56,274.45 L504.70,272.14 L507.83,269.85 L510.97,267.56 L514.10,265.29 L517.24,263.02 L520.37,260.77 L523.51,258.53 L526.64,256.29 L529.78,254.07 L532.91,251.85 L536.05,249.64 L539.18,247.44 L542.32,245.25 L545.45,243.07 L548.59,240.89 L551.72,238.72 L554.86,236.55 L557.99,234.40 L561.13,232.25 L564.26,230.10 L567.40,227.96 L570.53,225.83 L573.67,223.70 L576.80,221.58 L579.94,219.46 L583.07,217.35 L586.21,215.24 L589.34,213.14 L592.48,211.04 L595.61,208.95 L598.75,206.86 L601.88,204.77 L605.02,202.69 L608.15,200.61 L611.29,198.54 L614.42,196.46 L617.56,194.40 L620.69,192.33 L623.83,190.27 L626.96,188.21 L630.10,186.15 L633.23,184.10 L636.37,182.05 L639.50,180.00 L642.64,177.96 L645.77,175.91 L648.91,173.87 L652.04,171.83 L655.18,169.80 L658.31,167.76 L661.45,165.73 L664.58,163.70 L667.72,161.67 L670.85,159.64 L673.99,157.62 L677.12,155.60 L680.26,153.57 L683.39,151.55 L686.53,149.54 L689.66,147.52 L692.80,145.50 L695.93,143.49 L699.07,141.48 L702.20,139.46 L705.34,137.45 L708.47,135.45 L711.61,133.44 L714.74,131.43 L717.88,129.42 L721.01,127.42 L724.15,125.41 L727.28,123.41 L730.42,121.41 L733.55,119.41 L736.69,117.41 L739.82,115.41 L742.96,113.41 L746.09,111.41 L749.23,109.41 L752.36,107.42 L755.50,105.42" stroke="#00ff00" stroke-width="1.5" fill="none" stroke-linejoin="round"/>
</g>
<g fill="none" stroke-linecap="round" stroke-linejoin="round">
<path d="M560.8,432.40 H597.2" stroke="#000" stroke-width="1.1" stroke-linecap="butt"/>
<path d="M636.5 427.0 624.7 442.0 637.5 442.0 637.5 437.7 636.5 442.0M625.8 442.0 637.5 427.0 624.7 427.0 624.7 431.3 625.8 427.0M646.5 429.2 664.3 429.2M646.5 435.6 664.3 435.6M679.3 419.5 682.5 419.5 684.6 420.6 685.7 422.7 685.7 423.8 684.6 424.9 683.6 423.8 684.6 422.7M679.3 419.5 676.1 420.6 673.9 422.7 672.9 424.9 671.8 429.2 671.8 435.6 672.9 438.8 675.0 440.9 678.2 442.0 676.1 440.9 673.9 438.8 672.9 435.6 672.9 429.2 673.9 424.9 675.0 422.7 677.1 420.6 679.3 419.5M680.4 428.1 683.6 429.2 685.7 431.3 686.8 434.5 686.8 435.6 685.7 438.8 683.6 440.9 680.4 442.0 682.5 440.9 684.6 438.8 685.7 435.6 685.7 434.5 684.6 431.3 682.5 429.2 680.4 428.1 679.3 428.1 676.1 429.2 673.9 431.3 672.9 434.5M678.2 442.0 680.4 442.0" stroke="#000" stroke-width="1.5"/>
<path d="M560.8,481.17 H597.2" stroke="#0000ff" stroke-width="1.1" stroke-linecap="butt"/>
<path d="M636.5 475.8 624.7 490.8 637.5 490.8 637.5 486.5 636.5 490.8M625.8 490.8 637.5 475.8 624.7 475.8 624.7 480.1 625.8 475.8M646.5 477.9 664.3 477.9M646.5 484.3 664.3 484.3M671.8 468.3 671.8 474.7M682.5 471.5 677.1 468.3 675.0 468.3 672.9 470.4 675.0 469.4 677.1 469.4 682.5 471.5 684.6 471.5 685.7 470.4 686.8 468.3 686.8 471.5 685.7 474.7 680.4 480.1 679.3 482.2 678.2 485.4 678.2 490.8M685.7 474.7 681.4 480.1 680.4 482.2 679.3 485.4 679.3 490.8M672.9 470.4 671.8 472.6" stroke="#0000ff" stroke-width="1.5"/>
<path d="M560.8,529.94 H597.2" stroke="#ff0000" stroke-width="1.1" stroke-linecap="butt"/>
<path d="M636.5 524.6 624.7 539.5 637.5 539.5 637.5 535.3 636.5 539.5M625.8 539.5 637.5 524.6 624.7 524.6 624.7 528.8 625.8 524.6M646.5 526.7 664.3 526.7M646.5 533.1 664.3 533.1M677.1 517.1 681.4 517.1 684.6 518.1 685.7 520.3 685.7 523.5 684.6 525.6 681.4 526.7 677.1 526.7 673.9 525.6 672.9 523.5 672.9 520.3 673.9 518.1 677.1 517.1 675.0 518.1 673.9 520.3 673.9 523.5 675.0 525.6 677.1 526.7 673.9 527.8 672.9 528.8 671.8 531.0 671.8 535.3 672.9 537.4 673.9 538.5 677.1 539.5 681.4 539.5 684.6 538.5 685.7 537.4 686.8 535.3 686.8 531.0 685.7 528.8 684.6 527.8 681.4 526.7 683.6 525.6 684.6 523.5 684.6 520.3 683.6 518.1 681.4 517.1M677.1 526.7 675.0 527.8 673.9 528.8 672.9 531.0 672.9 535.3 673.9 537.4 675.0 538.5 677.1 539.5M681.4 526.7 683.6 527.8 684.6 528.8 685.7 531.0 685.7 535.3 684.6 537.4 683.6 538.5 681.4 539.5" stroke="#ff0000" stroke-width="1.5"/>
<path d="M560.8,578.71 H597.2" stroke="#00ff00" stroke-width="1.1" stroke-linecap="butt"/>
<path d="M636.5 573.3 624.7 588.3 637.5 588.3 637.5 584.0 636.5 588.3M625.8 588.3 637.5 573.3 624.7 573.3 624.7 577.6 625.8 573.3M646.5 575.5 664.3 575.5M646.5 581.9 664.3 581.9M678.2 565.8 675.0 566.9 672.9 569.1 671.8 572.3 671.8 573.3 672.9 576.5 675.0 578.7 678.2 579.8 676.1 578.7 673.9 576.5 672.9 573.3 672.9 572.3 673.9 569.1 676.1 566.9 678.2 565.8 680.4 565.8 683.6 566.9 685.7 569.1 686.8 572.3 686.8 578.7 685.7 583.0 684.6 585.1 682.5 587.2 679.3 588.3 676.1 588.3 673.9 587.2 672.9 585.1 672.9 584.0 673.9 583.0 675.0 584.0 673.9 585.1M680.4 565.8 682.5 566.9 684.6 569.1 685.7 572.3 685.7 578.7 684.6 583.0 683.6 585.1 681.4 587.2 679.3 588.3M685.7 573.3 684.6 576.5 682.5 578.7 679.3 579.8 678.2 579.8" stroke="#00ff00" stroke-width="1.5"/>
<path d="M75.5 52.5 75.5 35.3 73.1 37.8 71.5 38.6M74.7 36.2 74.7 52.5M71.5 52.5 78.8 52.5M90.2 35.3 87.8 36.2 86.1 38.6 85.3 42.7 85.3 45.1 86.1 49.2 87.8 51.6 90.2 52.5 88.6 51.6 87.8 50.8 86.9 49.2 86.1 45.1 86.1 42.7 86.9 38.6 87.8 37.0 88.6 36.2 90.2 35.3 91.8 35.3 94.3 36.2 95.9 38.6 96.7 42.7 96.7 45.1 95.9 49.2 94.3 51.6 91.8 52.5 93.5 51.6 94.3 50.8 95.1 49.2 95.9 45.1 95.9 42.7 95.1 38.6 94.3 37.0 93.5 36.2 91.8 35.3M90.2 52.5 91.8 52.5" stroke="#000" stroke-width="1.5"/>
<path d="M101.9 40.3 109.7 40.3M113.0 34.4 113.0 37.2M117.8 35.8 115.4 34.4 114.4 34.4 113.5 35.3 114.4 34.9 115.4 34.9 117.8 35.8 118.7 35.8 119.2 35.3 119.7 34.4 119.7 35.8 119.2 37.2 116.8 39.6 116.3 40.6 115.9 42.0 115.9 44.4M119.2 37.2 117.3 39.6 116.8 40.6 116.3 42.0 116.3 44.4M113.5 35.3 113.0 36.3" stroke="#000" stroke-width="1.5"/>
<path d="M75.5 113.2 75.5 96.1 73.1 98.6 71.5 99.4M74.7 96.9 74.7 113.2M71.5 113.2 78.8 113.2M90.2 96.1 87.8 96.9 86.1 99.4 85.3 103.5 85.3 105.9 86.1 110.0 87.8 112.4 90.2 113.2 88.6 112.4 87.8 111.6 86.9 110.0 86.1 105.9 86.1 103.5 86.9 99.4 87.8 97.7 88.6 96.9 90.2 96.1 91.8 96.1 94.3 96.9 95.9 99.4 96.7 103.5 96.7 105.9 95.9 110.0 94.3 112.4 91.8 113.2 93.5 112.4 94.3 111.6 95.1 110.0 95.9 105.9 95.9 103.5 95.1 99.4 94.3 97.7 93.5 96.9 91.8 96.1M90.2 113.2 91.8 113.2" stroke="#000" stroke-width="1.5"/>
<path d="M101.9 101.1 109.7 101.1M115.4 95.2 117.3 95.2 118.7 95.6 119.2 96.6 119.2 98.0 118.7 99.0 117.3 99.5 115.4 99.5 113.9 99.0 113.5 98.0 113.5 96.6 113.9 95.6 115.4 95.2 114.4 95.6 113.9 96.6 113.9 98.0 114.4 99.0 115.4 99.5 113.9 99.9 113.5 100.4 113.0 101.4 113.0 103.3 113.5 104.2 113.9 104.7 115.4 105.2 117.3 105.2 118.7 104.7 119.2 104.2 119.7 103.3 119.7 101.4 119.2 100.4 118.7 99.9 117.3 99.5 118.2 99.0 118.7 98.0 118.7 96.6 118.2 95.6 117.3 95.2M115.4 99.5 114.4 99.9 113.9 100.4 113.5 101.4 113.5 103.3 113.9 104.2 114.4 104.7 115.4 105.2M117.3 99.5 118.2 99.9 118.7 100.4 119.2 101.4 119.2 103.3 118.7 104.2 118.2 104.7 117.3 105.2" stroke="#000" stroke-width="1.5"/>
<path d="M75.5 174.0 75.5 156.9 73.1 159.3 71.5 160.2M74.7 157.7 74.7 174.0M71.5 174.0 78.8 174.0M90.2 156.9 87.8 157.7 86.1 160.2 85.3 164.2 85.3 166.7 86.1 170.8 87.8 173.2 90.2 174.0 88.6 173.2 87.8 172.4 86.9 170.8 86.1 166.7 86.1 164.2 86.9 160.2 87.8 158.5 88.6 157.7 90.2 156.9 91.8 156.9 94.3 157.7 95.9 160.2 96.7 164.2 96.7 166.7 95.9 170.8 94.3 173.2 91.8 174.0 93.5 173.2 94.3 172.4 95.1 170.8 95.9 166.7 95.9 164.2 95.1 160.2 94.3 158.5 93.5 157.7 91.8 156.9M90.2 174.0 91.8 174.0" stroke="#000" stroke-width="1.5"/>
<path d="M101.9 161.9 109.7 161.9M115.9 156.0 114.4 156.4 113.5 157.4 113.0 158.8 113.0 159.3 113.5 160.7 114.4 161.7 115.9 162.1 114.9 161.7 113.9 160.7 113.5 159.3 113.5 158.8 113.9 157.4 114.9 156.4 115.9 156.0 116.8 156.0 118.2 156.4 119.2 157.4 119.7 158.8 119.7 161.7 119.2 163.6 118.7 164.5 117.8 165.5 116.3 166.0 114.9 166.0 113.9 165.5 113.5 164.5 113.5 164.1 113.9 163.6 114.4 164.1 113.9 164.5M116.8 156.0 117.8 156.4 118.7 157.4 119.2 158.8 119.2 161.7 118.7 163.6 118.2 164.5 117.3 165.5 116.3 166.0M119.2 159.3 118.7 160.7 117.8 161.7 116.3 162.1 115.9 162.1" stroke="#000" stroke-width="1.5"/>
<path d="M66.0 234.8 66.0 217.7 63.6 220.1 61.9 220.9M65.2 218.5 65.2 234.8M61.9 234.8 69.3 234.8M80.7 217.7 78.2 218.5 76.6 220.9 75.8 225.0 75.8 227.5 76.6 231.5 78.2 234.0 80.7 234.8 79.0 234.0 78.2 233.2 77.4 231.5 76.6 227.5 76.6 225.0 77.4 220.9 78.2 219.3 79.0 218.5 80.7 217.7 82.3 217.7 84.7 218.5 86.4 220.9 87.2 225.0 87.2 227.5 86.4 231.5 84.7 234.0 82.3 234.8 83.9 234.0 84.7 233.2 85.6 231.5 86.4 227.5 86.4 225.0 85.6 220.9 84.7 219.3 83.9 218.5 82.3 217.7M80.7 234.8 82.3 234.8" stroke="#000" stroke-width="1.5"/>
<path d="M92.4 222.6 100.1 222.6M107.3 226.7 107.3 216.7 105.8 218.2 104.9 218.6M106.8 217.2 106.8 226.7M104.9 226.7 109.2 226.7M115.9 216.7 114.4 217.2 113.5 218.6 113.0 221.0 113.0 222.5 113.5 224.8 114.4 226.3 115.9 226.7 114.9 226.3 114.4 225.8 113.9 224.8 113.5 222.5 113.5 221.0 113.9 218.6 114.4 217.7 114.9 217.2 115.9 216.7 116.8 216.7 118.2 217.2 119.2 218.6 119.7 221.0 119.7 222.5 119.2 224.8 118.2 226.3 116.8 226.7 117.8 226.3 118.2 225.8 118.7 224.8 119.2 222.5 119.2 221.0 118.7 218.6 118.2 217.7 117.8 217.2 116.8 216.7M115.9 226.7 116.8 226.7" stroke="#000" stroke-width="1.5"/>
<path d="M66.0 295.6 66.0 278.5 63.6 280.9 61.9 281.7M65.2 279.3 65.2 295.6M61.9 295.6 69.3 295.6M80.7 278.5 78.2 279.3 76.6 281.7 75.8 285.8 75.8 288.2 76.6 292.3 78.2 294.8 80.7 295.6 79.0 294.8 78.2 293.9 77.4 292.3 76.6 288.2 76.6 285.8 77.4 281.7 78.2 280.1 79.0 279.3 80.7 278.5 82.3 278.5 84.7 279.3 86.4 281.7 87.2 285.8 87.2 288.2 86.4 292.3 84.7 294.8 82.3 295.6 83.9 294.8 84.7 293.9 85.6 292.3 86.4 288.2 86.4 285.8 85.6 281.7 84.7 280.1 83.9 279.3 82.3 278.5M80.7 295.6 82.3 295.6" stroke="#000" stroke-width="1.5"/>
<path d="M92.4 283.4 100.1 283.4M107.3 287.5 107.3 277.5 105.8 278.9 104.9 279.4M106.8 278.0 106.8 287.5M104.9 287.5 109.2 287.5M116.8 287.5 116.8 277.5 115.4 278.9 114.4 279.4M116.3 278.0 116.3 287.5M114.4 287.5 118.7 287.5" stroke="#000" stroke-width="1.5"/>
<path d="M66.0 356.4 66.0 339.2 63.6 341.7 61.9 342.5M65.2 340.1 65.2 356.4M61.9 356.4 69.3 356.4M80.7 339.2 78.2 340.1 76.6 342.5 75.8 346.6 75.8 349.0 76.6 353.1 78.2 355.5 80.7 356.4 79.0 355.5 78.2 354.7 77.4 353.1 76.6 349.0 76.6 346.6 77.4 342.5 78.2 340.9 79.0 340.1 80.7 339.2 82.3 339.2 84.7 340.1 86.4 342.5 87.2 346.6 87.2 349.0 86.4 353.1 84.7 355.5 82.3 356.4 83.9 355.5 84.7 354.7 85.6 353.1 86.4 349.0 86.4 346.6 85.6 342.5 84.7 340.9 83.9 340.1 82.3 339.2M80.7 356.4 82.3 356.4" stroke="#000" stroke-width="1.5"/>
<path d="M92.4 344.2 100.1 344.2M107.3 348.3 107.3 338.3 105.8 339.7 104.9 340.2M106.8 338.8 106.8 348.3M104.9 348.3 109.2 348.3M115.4 344.0 117.8 343.1 119.2 342.1 119.7 341.2 119.7 340.2 119.2 339.3 118.7 338.8 117.3 338.3 115.4 338.3 113.9 338.8 113.5 339.3 113.0 340.2 113.0 340.7 113.5 341.2 113.9 340.7 113.5 340.2M114.4 346.9 116.8 347.8 118.2 347.8 119.2 347.4 119.7 346.9 119.7 345.9M114.4 346.9 116.8 348.3 118.7 348.3 119.2 347.8 119.7 346.9M114.4 346.9 113.5 346.9 113.0 347.4M117.3 338.3 118.2 338.8 118.7 339.3 119.2 340.2 119.2 341.2 118.7 342.1 117.3 343.1 114.4 344.5 113.5 345.4 113.0 346.9 113.0 348.3" stroke="#000" stroke-width="1.5"/>
<path d="M66.0 417.1 66.0 400.0 63.6 402.5 61.9 403.3M65.2 400.8 65.2 417.1M61.9 417.1 69.3 417.1M80.7 400.0 78.2 400.8 76.6 403.3 75.8 407.4 75.8 409.8 76.6 413.9 78.2 416.3 80.7 417.1 79.0 416.3 78.2 415.5 77.4 413.9 76.6 409.8 76.6 407.4 77.4 403.3 78.2 401.7 79.0 400.8 80.7 400.0 82.3 400.0 84.7 400.8 86.4 403.3 87.2 407.4 87.2 409.8 86.4 413.9 84.7 416.3 82.3 417.1 83.9 416.3 84.7 415.5 85.6 413.9 86.4 409.8 86.4 407.4 85.6 403.3 84.7 401.7 83.9 400.8 82.3 400.0M80.7 417.1 82.3 417.1" stroke="#000" stroke-width="1.5"/>
<path d="M92.4 405.0 100.1 405.0M107.3 409.1 107.3 399.1 105.8 400.5 104.9 401.0M106.8 399.6 106.8 409.1M104.9 409.1 109.2 409.1M117.3 399.1 115.4 399.1 113.9 399.6 113.5 400.0 113.0 401.0 113.0 401.5 113.5 401.9 113.9 401.5 113.5 401.0M117.3 399.1 118.7 399.6 119.2 400.5 119.2 401.9 118.7 402.9 117.3 403.4 115.9 403.4M117.3 399.1 118.2 399.6 118.7 400.5 118.7 401.9 118.2 402.9 117.3 403.4 118.2 403.8 119.2 404.8 119.7 405.8 119.7 407.2 119.2 408.1 118.7 408.6 117.3 409.1 115.4 409.1 113.9 408.6 113.5 408.1 113.0 407.2 113.0 406.7 113.5 406.2 113.9 406.7 113.5 407.2M117.3 409.1 118.2 408.6 118.7 408.1 119.2 407.2 119.2 405.8 118.7 404.3" stroke="#000" stroke-width="1.5"/>
<path d="M66.0 477.9 66.0 460.8 63.6 463.3 61.9 464.1M65.2 461.6 65.2 477.9M61.9 477.9 69.3 477.9M80.7 460.8 78.2 461.6 76.6 464.1 75.8 468.1 75.8 470.6 76.6 474.7 78.2 477.1 80.7 477.9 79.0 477.1 78.2 476.3 77.4 474.7 76.6 470.6 76.6 468.1 77.4 464.1 78.2 462.4 79.0 461.6 80.7 460.8 82.3 460.8 84.7 461.6 86.4 464.1 87.2 468.1 87.2 470.6 86.4 474.7 84.7 477.1 82.3 477.9 83.9 477.1 84.7 476.3 85.6 474.7 86.4 470.6 86.4 468.1 85.6 464.1 84.7 462.4 83.9 461.6 82.3 460.8M80.7 477.9 82.3 477.9" stroke="#000" stroke-width="1.5"/>
<path d="M92.4 465.8 100.1 465.8M107.3 469.9 107.3 459.9 105.8 461.3 104.9 461.8M106.8 460.3 106.8 469.9M104.9 469.9 109.2 469.9M117.8 469.9 117.8 459.9 112.5 467.0 120.1 467.0M117.3 460.8 117.3 469.9M115.9 469.9 119.2 469.9" stroke="#000" stroke-width="1.5"/>
<path d="M66.0 538.7 66.0 521.6 63.6 524.0 61.9 524.8M65.2 522.4 65.2 538.7M61.9 538.7 69.3 538.7M80.7 521.6 78.2 522.4 76.6 524.8 75.8 528.9 75.8 531.4 76.6 535.4 78.2 537.9 80.7 538.7 79.0 537.9 78.2 537.1 77.4 535.4 76.6 531.4 76.6 528.9 77.4 524.8 78.2 523.2 79.0 522.4 80.7 521.6 82.3 521.6 84.7 522.4 86.4 524.8 87.2 528.9 87.2 531.4 86.4 535.4 84.7 537.9 82.3 538.7 83.9 537.9 84.7 537.1 85.6 535.4 86.4 531.4 86.4 528.9 85.6 524.8 84.7 523.2 83.9 522.4 82.3 521.6M80.7 538.7 82.3 538.7" stroke="#000" stroke-width="1.5"/>
<path d="M92.4 526.6 100.1 526.6M107.3 530.7 107.3 520.6 105.8 522.1 104.9 522.5M106.8 521.1 106.8 530.7M104.9 530.7 109.2 530.7M113.9 521.1 116.3 521.1 118.7 520.6 113.9 520.6 113.0 525.4 113.9 524.5 115.4 524.0 116.8 524.0 118.2 524.5 119.2 525.4 119.7 526.8 119.7 527.8 119.2 529.2 118.2 530.2 116.8 530.7 115.4 530.7 113.9 530.2 113.5 529.7 113.0 528.7 113.0 528.3 113.5 527.8 113.9 528.3 113.5 528.7M116.8 524.0 117.8 524.5 118.7 525.4 119.2 526.8 119.2 527.8 118.7 529.2 117.8 530.2 116.8 530.7" stroke="#000" stroke-width="1.5"/>
<path d="M66.0 599.5 66.0 582.4 63.6 584.8 61.9 585.6M65.2 583.2 65.2 599.5M61.9 599.5 69.3 599.5M80.7 582.4 78.2 583.2 76.6 585.6 75.8 589.7 75.8 592.2 76.6 596.2 78.2 598.7 80.7 599.5 79.0 598.7 78.2 597.9 77.4 596.2 76.6 592.2 76.6 589.7 77.4 585.6 78.2 584.0 79.0 583.2 80.7 582.4 82.3 582.4 84.7 583.2 86.4 585.6 87.2 589.7 87.2 592.2 86.4 596.2 84.7 598.7 82.3 599.5 83.9 598.7 84.7 597.9 85.6 596.2 86.4 592.2 86.4 589.7 85.6 585.6 84.7 584.0 83.9 583.2 82.3 582.4M80.7 599.5 82.3 599.5" stroke="#000" stroke-width="1.5"/>
<path d="M92.4 587.3 100.1 587.3M107.3 591.4 107.3 581.4 105.8 582.9 104.9 583.3M106.8 581.9 106.8 591.4M104.9 591.4 109.2 591.4M116.3 581.4 117.8 581.4 118.7 581.9 119.2 582.9 119.2 583.3 118.7 583.8 118.2 583.3 118.7 582.9M116.3 581.4 114.9 581.9 113.9 582.9 113.5 583.8 113.0 585.7 113.0 588.6 113.5 590.0 114.4 591.0 115.9 591.4 114.9 591.0 113.9 590.0 113.5 588.6 113.5 585.7 113.9 583.8 114.4 582.9 115.4 581.9 116.3 581.4M116.8 585.2 118.2 585.7 119.2 586.7 119.7 588.1 119.7 588.6 119.2 590.0 118.2 591.0 116.8 591.4 117.8 591.0 118.7 590.0 119.2 588.6 119.2 588.1 118.7 586.7 117.8 585.7 116.8 585.2 116.3 585.2 114.9 585.7 113.9 586.7 113.5 588.1M115.9 591.4 116.8 591.4" stroke="#000" stroke-width="1.5"/>
<path d="M66.0 660.3 66.0 643.2 63.6 645.6 61.9 646.4M65.2 644.0 65.2 660.3M61.9 660.3 69.3 660.3M80.7 643.2 78.2 644.0 76.6 646.4 75.8 650.5 75.8 652.9 76.6 657.0 78.2 659.5 80.7 660.3 79.0 659.5 78.2 658.6 77.4 657.0 76.6 652.9 76.6 650.5 77.4 646.4 78.2 644.8 79.0 644.0 80.7 643.2 82.3 643.2 84.7 644.0 86.4 646.4 87.2 650.5 87.2 652.9 86.4 657.0 84.7 659.5 82.3 660.3 83.9 659.5 84.7 658.6 85.6 657.0 86.4 652.9 86.4 650.5 85.6 646.4 84.7 644.8 83.9 644.0 82.3 643.2M80.7 660.3 82.3 660.3" stroke="#000" stroke-width="1.5"/>
<path d="M92.4 648.1 100.1 648.1M107.3 652.2 107.3 642.2 105.8 643.6 104.9 644.1M106.8 642.7 106.8 652.2M104.9 652.2 109.2 652.2M113.0 642.2 113.0 645.1M117.8 643.6 115.4 642.2 114.4 642.2 113.5 643.2 114.4 642.7 115.4 642.7 117.8 643.6 118.7 643.6 119.2 643.2 119.7 642.2 119.7 643.6 119.2 645.1 116.8 647.5 116.3 648.4 115.9 649.8 115.9 652.2M119.2 645.1 117.3 647.5 116.8 648.4 116.3 649.8 116.3 652.2M113.5 643.2 113.0 644.1" stroke="#000" stroke-width="1.5"/>
<path d="M66.0 721.0 66.0 703.9 63.6 706.4 61.9 707.2M65.2 704.8 65.2 721.0M61.9 721.0 69.3 721.0M80.7 703.9 78.2 704.8 76.6 707.2 75.8 711.3 75.8 713.7 76.6 717.8 78.2 720.2 80.7 721.0 79.0 720.2 78.2 719.4 77.4 717.8 76.6 713.7 76.6 711.3 77.4 707.2 78.2 705.6 79.0 704.8 80.7 703.9 82.3 703.9 84.7 704.8 86.4 707.2 87.2 711.3 87.2 713.7 86.4 717.8 84.7 720.2 82.3 721.0 83.9 720.2 84.7 719.4 85.6 717.8 86.4 713.7 86.4 711.3 85.6 707.2 84.7 705.6 83.9 704.8 82.3 703.9M80.7 721.0 82.3 721.0" stroke="#000" stroke-width="1.5"/>
<path d="M92.4 708.9 100.1 708.9M107.3 713.0 107.3 703.0 105.8 704.4 104.9 704.9M106.8 703.5 106.8 713.0M104.9 713.0 109.2 713.0M115.4 703.0 117.3 703.0 118.7 703.5 119.2 704.4 119.2 705.8 118.7 706.8 117.3 707.3 115.4 707.3 113.9 706.8 113.5 705.8 113.5 704.4 113.9 703.5 115.4 703.0 114.4 703.5 113.9 704.4 113.9 705.8 114.4 706.8 115.4 707.3 113.9 707.8 113.5 708.2 113.0 709.2 113.0 711.1 113.5 712.0 113.9 712.5 115.4 713.0 117.3 713.0 118.7 712.5 119.2 712.0 119.7 711.1 119.7 709.2 119.2 708.2 118.7 707.8 117.3 707.3 118.2 706.8 118.7 705.8 118.7 704.4 118.2 703.5 117.3 703.0M115.4 707.3 114.4 707.8 113.9 708.2 113.5 709.2 113.5 711.1 113.9 712.0 114.4 712.5 115.4 713.0M117.3 707.3 118.2 707.8 118.7 708.2 119.2 709.2 119.2 711.1 118.7 712.0 118.2 712.5 117.3 713.0" stroke="#000" stroke-width="1.5"/>
<path d="M113.0 735.9 126.2 735.9M136.0 735.6 140.0 733.9 142.5 732.3 143.3 730.7 143.3 729.0 142.5 727.4 141.7 726.6 139.2 725.8 136.0 725.8 133.5 726.6 132.7 727.4 131.9 729.0 131.9 729.9 132.7 730.7 133.5 729.9 132.7 729.0M134.3 740.5 138.4 742.1 140.9 742.1 142.5 741.3 143.3 740.5 143.3 738.8M134.3 740.5 138.4 742.9 141.7 742.9 142.5 742.1 143.3 740.5M134.3 740.5 132.7 740.5 131.9 741.3M139.2 725.8 140.9 726.6 141.7 727.4 142.5 729.0 142.5 730.7 141.7 732.3 139.2 733.9 134.3 736.4 132.7 738.0 131.9 740.5 131.9 742.9M155.5 725.8 152.3 725.8 149.8 726.6 149.0 727.4 148.2 729.0 148.2 729.9 149.0 730.7 149.8 729.9 149.0 729.0M155.5 725.8 158.0 726.6 158.8 728.2 158.8 730.7 158.0 732.3 155.5 733.1 153.1 733.1M155.5 725.8 157.2 726.6 158.0 728.2 158.0 730.7 157.2 732.3 155.5 733.1 157.2 733.9 158.8 735.6 159.6 737.2 159.6 739.6 158.8 741.3 158.0 742.1 155.5 742.9 152.3 742.9 149.8 742.1 149.0 741.3 148.2 739.6 148.2 738.8 149.0 738.0 149.8 738.8 149.0 739.6M155.5 742.9 157.2 742.1 158.0 741.3 158.8 739.6 158.8 737.2 158.0 734.8" stroke="#000" stroke-width="1.5"/>
<path d="M190.5 735.9 203.7 735.9M213.5 735.6 217.5 733.9 220.0 732.3 220.8 730.7 220.8 729.0 220.0 727.4 219.2 726.6 216.7 725.8 213.5 725.8 211.0 726.6 210.2 727.4 209.4 729.0 209.4 729.9 210.2 730.7 211.0 729.9 210.2 729.0M211.8 740.5 215.9 742.1 218.4 742.1 220.0 741.3 220.8 740.5 220.8 738.8M211.8 740.5 215.9 742.9 219.2 742.9 220.0 742.1 220.8 740.5M211.8 740.5 210.2 740.5 209.4 741.3M216.7 725.8 218.4 726.6 219.2 727.4 220.0 729.0 220.0 730.7 219.2 732.3 216.7 733.9 211.8 736.4 210.2 738.0 209.4 740.5 209.4 742.9M229.8 735.6 233.8 733.9 236.3 732.3 237.1 730.7 237.1 729.0 236.3 727.4 235.5 726.6 233.0 725.8 229.8 725.8 227.3 726.6 226.5 727.4 225.7 729.0 225.7 729.9 226.5 730.7 227.3 729.9 226.5 729.0M228.1 740.5 232.2 742.1 234.7 742.1 236.3 741.3 237.1 740.5 237.1 738.8M228.1 740.5 232.2 742.9 235.5 742.9 236.3 742.1 237.1 740.5M228.1 740.5 226.5 740.5 225.7 741.3M233.0 725.8 234.7 726.6 235.5 727.4 236.3 729.0 236.3 730.7 235.5 732.3 233.0 733.9 228.1 736.4 226.5 738.0 225.7 740.5 225.7 742.9" stroke="#000" stroke-width="1.5"/>
<path d="M268.0 735.9 281.2 735.9M291.0 735.6 295.0 733.9 297.5 732.3 298.3 730.7 298.3 729.0 297.5 727.4 296.7 726.6 294.2 725.8 291.0 725.8 288.5 726.6 287.7 727.4 286.9 729.0 286.9 729.9 287.7 730.7 288.5 729.9 287.7 729.0M289.3 740.5 293.4 742.1 295.9 742.1 297.5 741.3 298.3 740.5 298.3 738.8M289.3 740.5 293.4 742.9 296.7 742.9 297.5 742.1 298.3 740.5M289.3 740.5 287.7 740.5 286.9 741.3M294.2 725.8 295.9 726.6 296.7 727.4 297.5 729.0 297.5 730.7 296.7 732.3 294.2 733.9 289.3 736.4 287.7 738.0 286.9 740.5 286.9 742.9M309.7 742.9 309.7 725.8 307.3 728.2 305.6 729.0M308.9 726.6 308.9 742.9M305.6 742.9 313.0 742.9" stroke="#000" stroke-width="1.5"/>
<path d="M345.5 735.9 358.7 735.9M368.5 735.6 372.5 733.9 375.0 732.3 375.8 730.7 375.8 729.0 375.0 727.4 374.2 726.6 371.7 725.8 368.5 725.8 366.0 726.6 365.2 727.4 364.4 729.0 364.4 729.9 365.2 730.7 366.0 729.9 365.2 729.0M366.8 740.5 370.9 742.1 373.4 742.1 375.0 741.3 375.8 740.5 375.8 738.8M366.8 740.5 370.9 742.9 374.2 742.9 375.0 742.1 375.8 740.5M366.8 740.5 365.2 740.5 364.4 741.3M371.7 725.8 373.4 726.6 374.2 727.4 375.0 729.0 375.0 730.7 374.2 732.3 371.7 733.9 366.8 736.4 365.2 738.0 364.4 740.5 364.4 742.9M385.6 725.8 383.1 726.6 381.5 729.0 380.7 733.1 380.7 735.6 381.5 739.6 383.1 742.1 385.6 742.9 383.9 742.1 383.1 741.3 382.3 739.6 381.5 735.6 381.5 733.1 382.3 729.0 383.1 727.4 383.9 726.6 385.6 725.8 387.2 725.8 389.7 726.6 391.3 729.0 392.1 733.1 392.1 735.6 391.3 739.6 389.7 742.1 387.2 742.9 388.8 742.1 389.7 741.3 390.5 739.6 391.3 735.6 391.3 733.1 390.5 729.0 389.7 727.4 388.8 726.6 387.2 725.8M385.6 742.9 387.2 742.9" stroke="#000" stroke-width="1.5"/>
<path d="M423.0 735.9 436.2 735.9M448.4 742.9 448.4 725.8 446.0 728.2 444.3 729.0M447.6 726.6 447.6 742.9M444.3 742.9 451.7 742.9M463.1 725.8 460.6 726.6 459.0 728.2 458.2 730.7 458.2 731.5 459.0 733.9 460.6 735.6 463.1 736.4 461.4 735.6 459.8 733.9 459.0 731.5 459.0 730.7 459.8 728.2 461.4 726.6 463.1 725.8 464.7 725.8 467.2 726.6 468.8 728.2 469.6 730.7 469.6 735.6 468.8 738.8 468.0 740.5 466.3 742.1 463.9 742.9 461.4 742.9 459.8 742.1 459.0 740.5 459.0 739.6 459.8 738.8 460.6 739.6 459.8 740.5M464.7 725.8 466.3 726.6 468.0 728.2 468.8 730.7 468.8 735.6 468.0 738.8 467.2 740.5 465.5 742.1 463.9 742.9M468.8 731.5 468.0 733.9 466.3 735.6 463.9 736.4 463.1 736.4" stroke="#000" stroke-width="1.5"/>
<path d="M500.5 735.9 513.7 735.9M525.9 742.9 525.9 725.8 523.5 728.2 521.8 729.0M525.1 726.6 525.1 742.9M521.8 742.9 529.2 742.9M539.8 725.8 543.0 725.8 545.5 726.6 546.3 728.2 546.3 730.7 545.5 732.3 543.0 733.1 539.8 733.1 537.3 732.3 536.5 730.7 536.5 728.2 537.3 726.6 539.8 725.8 538.1 726.6 537.3 728.2 537.3 730.7 538.1 732.3 539.8 733.1 537.3 733.9 536.5 734.8 535.7 736.4 535.7 739.6 536.5 741.3 537.3 742.1 539.8 742.9 543.0 742.9 545.5 742.1 546.3 741.3 547.1 739.6 547.1 736.4 546.3 734.8 545.5 733.9 543.0 733.1 544.7 732.3 545.5 730.7 545.5 728.2 544.7 726.6 543.0 725.8M539.8 733.1 538.1 733.9 537.3 734.8 536.5 736.4 536.5 739.6 537.3 741.3 538.1 742.1 539.8 742.9M543.0 733.1 544.7 733.9 545.5 734.8 546.3 736.4 546.3 739.6 545.5 741.3 544.7 742.1 543.0 742.9" stroke="#000" stroke-width="1.5"/>
<path d="M578.0 735.9 591.2 735.9M603.4 742.9 603.4 725.8 601.0 728.2 599.3 729.0M602.6 726.6 602.6 742.9M599.3 742.9 606.7 742.9M613.2 725.8 613.2 730.7M621.3 728.2 617.3 725.8 615.6 725.8 614.0 727.4 615.6 726.6 617.3 726.6 621.3 728.2 623.0 728.2 623.8 727.4 624.6 725.8 624.6 728.2 623.8 730.7 619.7 734.8 618.9 736.4 618.1 738.8 618.1 742.9M623.8 730.7 620.5 734.8 619.7 736.4 618.9 738.8 618.9 742.9M614.0 727.4 613.2 729.0" stroke="#000" stroke-width="1.5"/>
<path d="M655.5 735.9 668.7 735.9M680.9 742.9 680.9 725.8 678.5 728.2 676.8 729.0M680.1 726.6 680.1 742.9M676.8 742.9 684.2 742.9M696.4 725.8 698.8 725.8 700.5 726.6 701.3 728.2 701.3 729.0 700.5 729.9 699.7 729.0 700.5 728.2M696.4 725.8 694.0 726.6 692.3 728.2 691.5 729.9 690.7 733.1 690.7 738.0 691.5 740.5 693.1 742.1 695.6 742.9 694.0 742.1 692.3 740.5 691.5 738.0 691.5 733.1 692.3 729.9 693.1 728.2 694.8 726.6 696.4 725.8M697.2 732.3 699.7 733.1 701.3 734.8 702.1 737.2 702.1 738.0 701.3 740.5 699.7 742.1 697.2 742.9 698.8 742.1 700.5 740.5 701.3 738.0 701.3 737.2 700.5 734.8 698.8 733.1 697.2 732.3 696.4 732.3 694.0 733.1 692.3 734.8 691.5 737.2M695.6 742.9 697.2 742.9" stroke="#000" stroke-width="1.5"/>
<path d="M733.0 735.9 746.2 735.9M758.4 742.9 758.4 725.8 756.0 728.2 754.3 729.0M757.6 726.6 757.6 742.9M754.3 742.9 761.7 742.9M769.8 726.6 773.9 726.6 778.0 725.8 769.8 725.8 768.2 733.9 769.8 732.3 772.3 731.5 774.7 731.5 777.2 732.3 778.8 733.9 779.6 736.4 779.6 738.0 778.8 740.5 777.2 742.1 774.7 742.9 772.3 742.9 769.8 742.1 769.0 741.3 768.2 739.6 768.2 738.8 769.0 738.0 769.8 738.8 769.0 739.6M774.7 731.5 776.3 732.3 778.0 733.9 778.8 736.4 778.8 738.0 778.0 740.5 776.3 742.1 774.7 742.9" stroke="#000" stroke-width="1.5"/>
<path d="M424.4 784.2 424.4 762.2 431.4 784.2 438.4 762.2 438.4 784.2M438.4 762.2 442.4 762.2M439.4 762.2 439.4 784.2M431.4 781.1 425.4 762.2 421.4 762.2M435.4 784.2 442.4 784.2M421.4 784.2 427.4 784.2" stroke="#000" stroke-width="1.5"/>
<path d="M447.9 794.5 452.2 781.3 456.5 794.5M452.2 783.2 455.9 794.5M449.2 790.7 454.6 790.7M446.7 794.5 450.4 794.5M454.0 794.5 457.7 794.5M461.4 781.3 461.4 794.5M462.0 781.3 462.0 794.5M459.5 781.3 466.8 781.3 468.7 781.9 469.3 782.5 469.9 783.8 469.9 785.0 469.3 786.3 468.7 786.9 466.8 787.6 462.0 787.6M466.8 781.3 468.1 781.9 468.7 782.5 469.3 783.8 469.3 785.0 468.7 786.3 468.1 786.9 466.8 787.6 468.7 788.2 469.3 788.8 469.9 790.1 469.9 792.0 469.3 793.2 468.7 793.9 466.8 794.5 459.5 794.5M466.8 794.5 468.1 793.9 468.7 793.2 469.3 792.0 469.3 790.1 468.7 788.8 468.1 788.2 466.8 787.6" stroke="#000" stroke-width="1.5"/>
<path d="M8.5 443.1 31.0 443.1M31.0 442.1 8.5 442.1 8.5 446.4M31.0 446.4 31.0 438.9M16.0 427.1 17.1 430.3 19.2 432.4 22.4 433.5 24.6 433.5 27.8 432.4 29.9 430.3 31.0 427.1 29.9 429.2 27.8 431.4 24.6 432.4 22.4 432.4 19.2 431.4 17.1 429.2 16.0 427.1 16.0 425.0 17.1 421.8 19.2 419.6 22.4 418.5 24.6 418.5 27.8 419.6 29.9 421.8 31.0 425.0 29.9 422.8 27.8 420.7 24.6 419.6 22.4 419.6 19.2 420.7 17.1 422.8 16.0 425.0M31.0 427.1 31.0 425.0M31.0 408.9 32.1 412.1 34.2 413.2 35.3 413.2 37.4 412.1 38.5 408.9 38.5 402.5 37.4 399.3 35.3 398.2 34.2 398.2 32.1 399.3 31.0 402.5 31.0 407.8 29.9 411.1 28.9 412.1 31.0 411.1 32.1 407.8 32.1 402.5 33.1 399.3 34.2 398.2M17.1 408.9 16.0 406.8 16.0 404.6 17.1 402.5 19.2 401.4 23.5 401.4 25.7 402.5 26.7 404.6 26.7 406.8 25.7 408.9 23.5 410.0 19.2 410.0 17.1 408.9 18.2 410.0 20.3 411.1 22.4 411.1 24.6 410.0 25.7 411.1 27.8 412.1 28.9 412.1M17.1 402.5 18.2 401.4 20.3 400.4 22.4 400.4 24.6 401.4 25.7 402.5M17.1 400.4 16.0 398.2 17.1 398.2 17.1 400.4 18.2 401.4M24.6 410.0 25.7 408.9" stroke="#000" stroke-width="1.5"/>
<path d="M6.4 345.4 10.7 347.5 13.9 348.6 19.2 349.6 23.5 349.6 28.9 348.6 32.1 347.5 36.4 345.4 33.1 347.5 28.9 349.6 23.5 350.7 19.2 350.7 13.9 349.6 9.6 347.5 6.4 345.4 4.2 343.2M36.4 345.4 38.5 343.2M8.5 334.7 31.0 334.7M8.5 333.6 31.0 333.6M31.0 337.9 31.0 321.8 24.6 321.8 31.0 322.9M8.5 337.9 8.5 330.4M6.4 315.4 10.7 313.3 13.9 312.2 19.2 311.1 23.5 311.1 28.9 312.2 32.1 313.3 36.4 315.4 33.1 313.3 28.9 311.1 23.5 310.1 19.2 310.1 13.9 311.1 9.6 313.3 6.4 315.4 4.3 317.6M36.4 315.4 38.5 317.6" stroke="#000" stroke-width="1.5"/>
<g transform="translate(31.0,448.5) rotate(-90)" stroke="#000" stroke-width="1.5"><ellipse cx="81.9" cy="-7.5" rx="8.5" ry="7.5"/><ellipse cx="81.9" cy="-7.5" rx="7.5" ry="7.5"/><path d="M84.7,-22.3 L78.9,6.9 M85.9,-22.1 L77.7,6.7"/></g>
<path d="M231.2 106.0 228.0 107.1 225.8 109.2 224.8 111.3 223.7 114.4 223.7 119.7 224.8 122.8 225.8 124.9 228.0 127.0 231.2 128.1 229.1 127.0 226.9 124.9 225.8 122.8 224.8 119.7 224.8 114.4 225.8 111.3 226.9 109.2 229.1 107.1 231.2 106.0 233.3 106.0 236.6 107.1 238.7 109.2 239.8 106.0 239.8 112.3 238.7 109.2M231.2 128.1 233.3 128.1 236.6 127.0 238.7 124.9 239.8 122.8M248.3 106.0 248.3 128.1M249.4 106.0 249.4 128.1M245.1 128.1 261.2 128.1 261.2 121.8 260.1 128.1M245.1 106.0 252.6 106.0M267.6 106.0 267.6 128.1M268.6 106.0 268.6 128.1M264.4 106.0 281.5 106.0 281.5 112.3 280.4 106.0M275.1 112.3 275.1 120.8M264.4 128.1 271.9 128.1M268.6 116.5 275.1 116.5" stroke="#000" stroke-width="1.5"/>
<path d="M306.6 113.9 306.6 128.7M307.7 128.7 307.7 113.9 303.4 113.9M318.3 128.7 318.3 117.0 317.2 114.9 315.1 113.9 318.3 114.9 319.3 117.0 319.3 128.7M319.3 117.0 321.5 114.9 324.6 113.9 326.8 113.9 329.9 114.9 331.0 117.0 331.0 128.7M329.9 128.7 329.9 117.0 328.9 114.9 326.8 113.9M303.4 128.7 310.9 128.7M315.1 128.7 322.5 128.7M326.8 128.7 334.2 128.7M315.1 113.9 313.0 113.9 309.8 114.9 307.7 117.0M345.8 113.9 342.7 114.9 340.5 117.0 339.5 120.2 339.5 122.3 340.5 125.5 342.7 127.6 345.8 128.7 343.7 127.6 341.6 125.5 340.5 122.3 340.5 120.2 341.6 117.0 343.7 114.9 345.8 113.9 348.0 113.9 351.1 114.9 353.3 117.0 354.3 120.2 354.3 122.3 353.3 125.5 351.1 127.6 348.0 128.7 350.1 127.6 352.2 125.5 353.3 122.3 353.3 120.2 352.2 117.0 350.1 114.9 348.0 113.9M345.8 128.7 348.0 128.7M373.4 106.4 373.4 128.7 377.6 128.7M374.5 128.7 374.5 106.4 370.2 106.4M367.0 113.9 363.9 114.9 361.8 117.0 360.7 120.2 360.7 122.3 361.8 125.5 363.9 127.6 367.0 128.7 364.9 127.6 362.8 125.5 361.8 122.3 361.8 120.2 362.8 117.0 364.9 114.9 367.0 113.9 369.2 113.9 371.3 114.9 373.4 117.0M367.0 128.7 369.2 128.7 371.3 127.6 373.4 125.5M384.0 120.2 396.7 120.2 396.7 118.1 395.7 116.0 394.6 114.9 392.5 113.9 389.3 113.9 386.1 114.9 384.0 117.0 382.9 120.2 382.9 122.3 384.0 125.5 386.1 127.6 389.3 128.7 387.2 127.6 385.1 125.5 384.0 122.3 384.0 120.2 385.1 117.0 387.2 114.9 389.3 113.9M395.7 120.2 395.7 117.0 394.6 114.9M389.3 128.7 391.4 128.7 394.6 127.6 396.7 125.5M405.2 106.4 405.2 128.7M406.3 128.7 406.3 106.4 402.0 106.4M402.0 128.7 409.4 128.7" stroke="#000" stroke-width="1.5"/>
</g>
</svg>
</body></html>
